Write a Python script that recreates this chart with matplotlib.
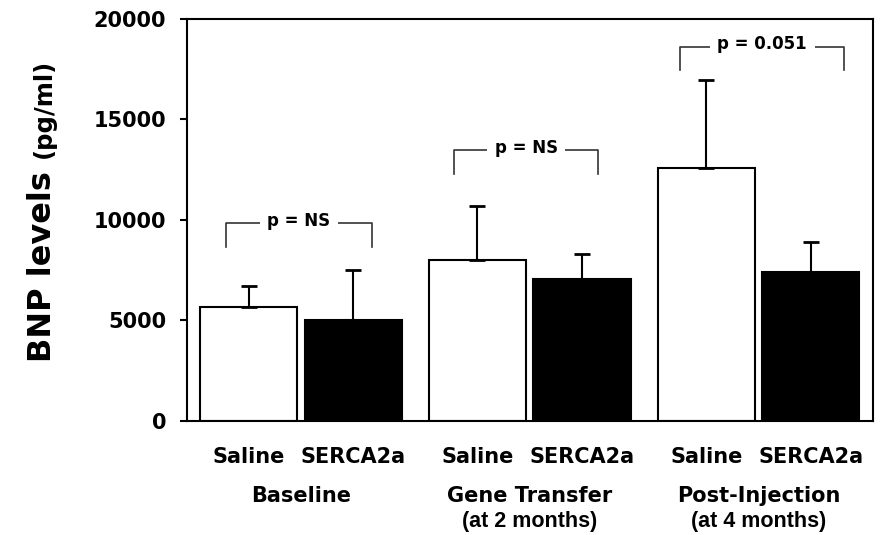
import matplotlib.pyplot as plt
import numpy as np

# data
groups = ["Baseline", "Gene Transfer", "Post-Injection"]
group_notes = ["", "(at 2 months)", "(at 4 months)"]
treatments = ["Saline", "SERCA2a"]
saline_mean = [5650, 8000, 12600]
saline_err = [1050, 2700, 4350]
serca_mean = [5000, 7050, 7400]
serca_err = [2500, 1250, 1500]
p_labels = ["p = NS", "p = NS", "p = 0.051"]
bracket_top = [9850, 13480, 18620]
y_ticks = [0, 5000, 10000, 15000, 20000]

# layout
first = 0.59
step = 2.19
width = 0.93
left_off = [-0.22, -0.22, -0.25]
right_off = [0.18, 0.15, 0.32]
drop = 1180

fig = plt.figure(figsize=(8.87, 5.35), dpi=100)
ax = fig.add_axes([0.2108, 0.2131, 0.7734, 0.7514])

x_sal = first + step * np.arange(len(groups))
x_ser = x_sal + 1.0

ekw = dict(ecolor="black", elinewidth=1.5, capsize=5.8, capthick=2)
ax.bar(x_sal, saline_mean, width, color="white", edgecolor="black", linewidth=1.5,
       yerr=[np.zeros(3), saline_err], error_kw=ekw)
ax.bar(x_ser, serca_mean, width, color="black", edgecolor="black", linewidth=1.5,
       yerr=[np.zeros(3), serca_err], error_kw=ekw)

# significance brackets
for i in range(len(groups)):
    xl = x_sal[i] + left_off[i]
    xr = x_ser[i] + right_off[i]
    top = bracket_top[i]
    ax.plot([xl, xl, xr, xr], [top - drop, top, top, top - drop], color="#333333", lw=1.2, zorder=2)
    ax.text((xl + xr) / 2, top + 120, p_labels[i], ha="center", va="center",
            fontsize=12, fontweight="bold", zorder=4,
            bbox=dict(facecolor="white", edgecolor="none", boxstyle="square,pad=0.45"))

ax.set_xlim(0, 6.565)
ax.set_ylim(0, 20000)
ax.set_yticks(y_ticks)
ax.set_yticklabels([str(t) for t in y_ticks], fontsize=15, fontweight="bold")
ax.set_xticks([])
ax.tick_params(axis="y", direction="out", length=5, width=1.5, pad=10)
for s in ax.spines.values():
    s.set_linewidth(1.5)

# category labels under the axis
tr = ax.get_xaxis_transform()
for i in range(len(groups)):
    ax.text(x_sal[i], -0.0896, treatments[0], transform=tr, ha="center", va="center",
            fontsize=15, fontweight="bold")
    ax.text(x_ser[i], -0.0896, treatments[1], transform=tr, ha="center", va="center",
            fontsize=15, fontweight="bold")
    xc = (x_sal[i] + x_ser[i]) / 2
    ax.text(xc, -0.1866, groups[i], transform=tr, ha="center", va="center",
            fontsize=15, fontweight="bold")
    if group_notes[i]:
        ax.text(xc, -0.2512, group_notes[i], transform=tr, ha="center", va="center",
                fontsize=15.5, fontweight="bold", family="Liberation Sans")

# y label in two parts
fig.text(51 / 887, 1 - 362 / 535, "BNP levels", rotation=90, rotation_mode="anchor",
         ha="left", va="baseline", fontsize=23, fontweight="bold")
fig.text(51 / 887, 1 - 158 / 535, "(pg/ml)", rotation=90, rotation_mode="anchor",
         ha="left", va="baseline", fontsize=17.5, fontweight="bold")

fig.savefig("out.png", dpi=100)
